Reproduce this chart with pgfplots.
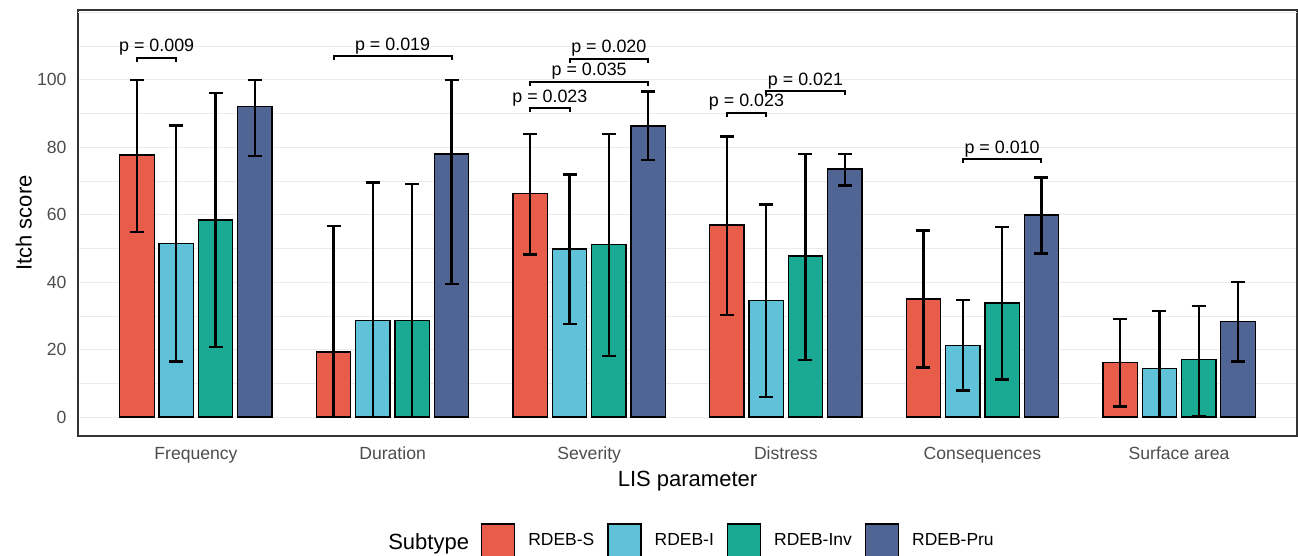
\documentclass[border=0pt]{standalone}
\usepackage{pgfplots}
\pgfplotsset{compat=1.18}
\usepackage{pgfplotstable}
\usepackage{fontspec}
\setmainfont{Liberation Sans}
\definecolor{cS}{RGB}{232,93,73}
\definecolor{cI}{RGB}{95,194,217}
\definecolor{cInv}{RGB}{26,170,147}
\definecolor{cPru}{RGB}{80,101,147}
\definecolor{gridc}{RGB}{235,235,235}
\definecolor{tickc}{RGB}{77,77,77}
\definecolor{framec}{RGB}{51,51,51}

\pgfplotstableread{
x y lo hi
-0.3 77.7 54.8 100
0.7 19.3 0 56.7
1.7 66.2 48.2 83.9
2.7 57.0 30.2 83.2
3.7 35.0 14.7 55.3
4.7 16.2 3.1 29.0
}\dataS
\pgfplotstableread{
x y lo hi
-0.1 51.4 16.5 86.5
0.9 28.6 0 69.6
1.9 49.8 27.7 71.9
2.9 34.5 6.0 63.0
3.9 21.3 7.9 34.7
4.9 14.4 0 31.4
}\dataI
\pgfplotstableread{
x y lo hi
0.1 58.4 20.7 96.1
1.1 28.6 0 69.2
2.1 51.2 18.2 83.9
3.1 47.8 17.0 78.1
4.1 33.8 11.2 56.3
5.1 17.0 0.4 33.0
}\dataInv
\pgfplotstableread{
x y lo hi
0.3 92.0 77.5 100
1.3 78.0 39.4 100
2.3 86.3 76.3 96.5
3.3 73.6 68.7 78.1
4.3 59.9 48.5 71.0
5.3 28.3 16.5 40.1
}\dataPru

\pgfplotsset{
  barsty/.style={ybar, bar width=0.175, bar shift=0pt, draw=black, line width=1pt,
    error bars/.cd, y dir=both, y explicit,
    error bar style={line width=1.75pt, draw=black},
    error mark options={rotate=90, line width=1.75pt, mark size=5.25pt, draw=black}},
  brk/.style={sharp plot, black, line width=1.5pt, forget plot},
}
\tikzset{plab/.style={pos=0.5, anchor=base, yshift=4.2pt, inner sep=0pt, font=\fontsize{13.4}{16}\selectfont, text=black}}

\begin{document}
\begin{tikzpicture}
\useasboundingbox (-58.5pt,-90pt) rectangle (915pt,327pt);
\begin{axis}[
  at={(0,0)}, anchor=south west, scale only axis,
  width=914.25pt, height=319.5pt,
  xmin=-0.6, xmax=5.6, ymin=-5.6, ymax=120.7,
  clip=false,
  axis line style={draw=framec, line width=1.1pt},
  xtick={0,...,5},
  xticklabels={Frequency,Duration,Severity,Distress,Consequences,Surface area},
  ytick={0,20,...,100}, minor ytick={10,30,...,110},
  extra y ticks={120}, extra y tick labels={},
  extra y tick style={grid=major, major tick length=0pt},
  ymajorgrids, yminorgrids,
  major grid style={draw=gridc, line width=0.8pt},
  minor grid style={draw=gridc, line width=0.5pt},
  major tick length=0pt, minor tick length=0pt,
  /pgf/number format/assume math mode=true,
  xticklabel style={font=\fontsize{13.2}{15}\selectfont, text=tickc, anchor=base, yshift=-18pt, inner sep=0pt},
  yticklabel style={font=\fontsize{13.2}{15}\selectfont, text=tickc, anchor=east, xshift=-8.5pt, inner sep=0pt},
  xlabel={LIS parameter}, ylabel={Itch score},
  xlabel style={font=\fontsize{16.5}{19}\selectfont, at={(axis description cs:0.5,0)}, anchor=base, yshift=-38pt, inner sep=0pt},
  ylabel style={font=\fontsize{16.5}{19}\selectfont, at={(axis description cs:-0.038,0.5)}, anchor=base, inner sep=0pt},
  legend style={at={(axis description cs:0.3306,-0.2453)}, anchor=west, draw=none, fill=none,
    inner sep=0pt, outer sep=0pt, font=\fontsize{13.1}{15}\selectfont,
    /tikz/every even column/.append style={column sep=9.75pt},
    /tikz/every odd column/.append style={column sep=9.75pt},
    nodes={inner sep=0pt}},
  legend columns=-1,
  legend cell align=left,
  legend image code/.code={\draw[#1,draw=black,line width=1pt] (0pt,-12.4pt) rectangle (24.75pt,12.4pt);},
]
\addplot[fill=cS, barsty] table[x=x, y=y, y error plus expr=\thisrow{hi}-\thisrow{y}, y error minus expr=\thisrow{y}-\thisrow{lo}] {\dataS};
\addlegendentry{RDEB-S}
\addplot[fill=cI, barsty] table[x=x, y=y, y error plus expr=\thisrow{hi}-\thisrow{y}, y error minus expr=\thisrow{y}-\thisrow{lo}] {\dataI};
\addlegendentry{RDEB-I}
\addplot[fill=cInv, barsty] table[x=x, y=y, y error plus expr=\thisrow{hi}-\thisrow{y}, y error minus expr=\thisrow{y}-\thisrow{lo}] {\dataInv};
\addlegendentry{RDEB-Inv}
\addplot[fill=cPru, barsty] table[x=x, y=y, y error plus expr=\thisrow{hi}-\thisrow{y}, y error minus expr=\thisrow{y}-\thisrow{lo}] {\dataPru};
\addlegendentry{RDEB-Pru}

\addplot[brk] coordinates {(-0.3,105.4) (-0.3,106.6) (-0.1,106.6) (-0.1,105.4)} node[plab] {p = 0.009};
\addplot[brk] coordinates {(0.7,105.9) (0.7,107.1) (1.3,107.1) (1.3,105.9)} node[plab] {p = 0.019};
\addplot[brk] coordinates {(1.7,90.4) (1.7,91.6) (1.9,91.6) (1.9,90.4)} node[plab] {p = 0.023};
\addplot[brk] coordinates {(1.7,98.3) (1.7,99.5) (2.3,99.5) (2.3,98.3)} node[plab] {p = 0.035};
\addplot[brk] coordinates {(1.9,105.1) (1.9,106.3) (2.3,106.3) (2.3,105.1)} node[plab] {p = 0.020};
\addplot[brk] coordinates {(2.7,89.1) (2.7,90.3) (2.9,90.3) (2.9,89.1)} node[plab] {p = 0.023};
\addplot[brk] coordinates {(2.9,95.5) (2.9,96.7) (3.3,96.7) (3.3,95.5)} node[plab] {p = 0.021};
\addplot[brk] coordinates {(3.9,75.4) (3.9,76.6) (4.3,76.6) (4.3,75.4)} node[plab] {p = 0.010};

\node[anchor=base west, inner sep=0pt, font=\fontsize{16.5}{19}\selectfont] at (axis description cs:0.2543,-0.266) {Subtype};
\end{axis}
\end{tikzpicture}
\end{document}
